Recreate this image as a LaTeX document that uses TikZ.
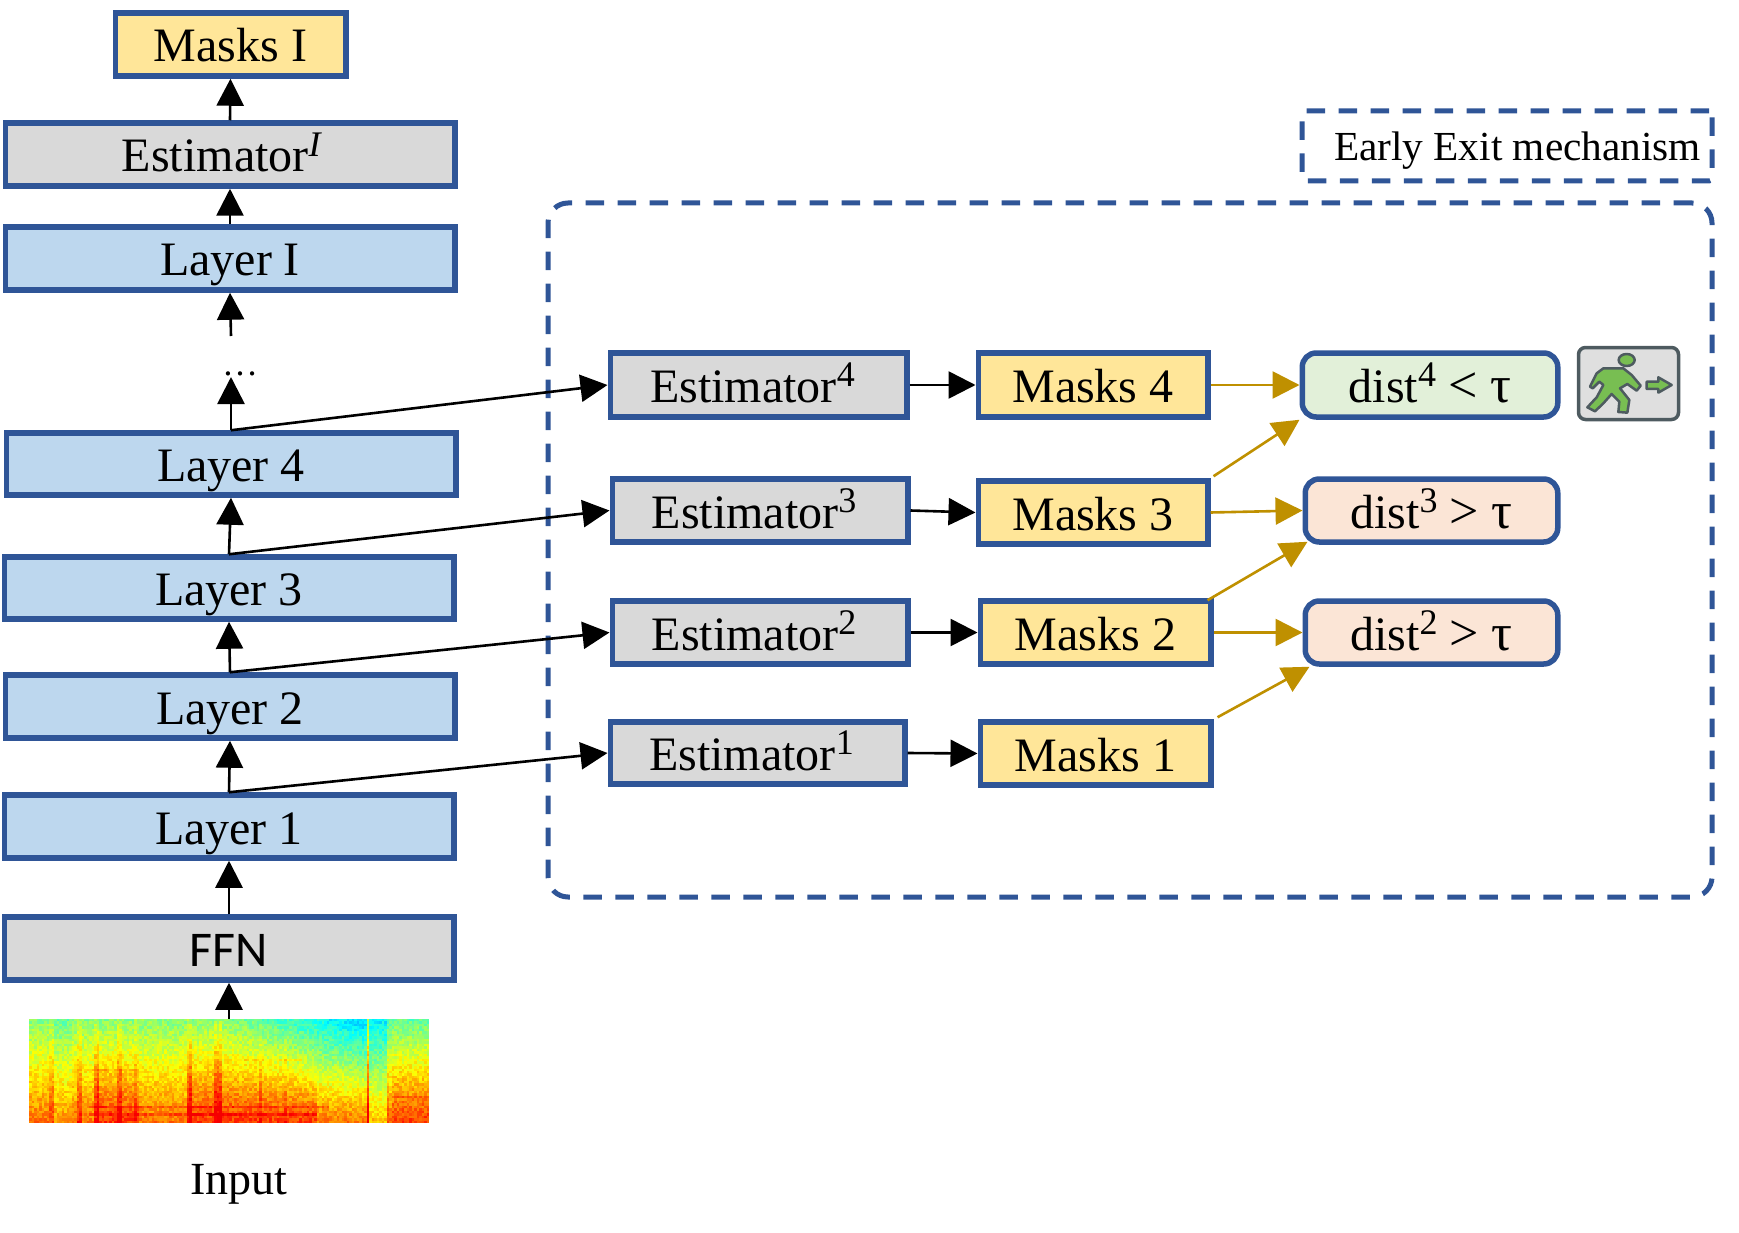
\documentclass[tikz,border=0pt]{standalone}
\usepackage{fontspec}
\setmainfont{Liberation Serif}
\newfontfamily\ffnfont{Carlito}
\usetikzlibrary{arrows.meta}
\definecolor{edgeblue}{HTML}{2F5597}
\definecolor{cellgray}{HTML}{D9D9D9}
\definecolor{cellblue}{HTML}{BDD7EE}
\definecolor{cellyellow}{HTML}{FFE699}
\definecolor{cellgreen}{HTML}{E2F0D9}
\definecolor{cellpink}{HTML}{FBE5D6}
\definecolor{goldline}{HTML}{BF9000}
\definecolor{figgreen}{HTML}{78BE52}
\definecolor{figdark}{HTML}{4E5B60}
\newcommand{\sups}[1]{\raisebox{0.33em}{\fontsize{36}{36}\selectfont #1}}
\newcommand{\cmpr}[1]{{\fontsize{52}{50}\selectfont #1}}
\newcommand{\bx}[7]{%
  \pgfmathsetmacro{\bxcx}{(#3+#5)/2}\pgfmathsetmacro{\bxcy}{(#4+#6)/2}%
  \pgfmathsetmacro{\bxw}{#5-#3-2.5}\pgfmathsetmacro{\bxh}{#6-#4-4}%
  \node[#2,minimum width=\bxw pt,minimum height=\bxh pt] (#1) at (\bxcx,\bxcy) {#7};}
\tikzset{
  cell/.style={draw=edgeblue,line width=5.5pt,inner sep=0pt,font=\fontsize{48}{50}\selectfont,text height=35pt,text depth=0pt},
  graybox/.style={cell,fill=cellgray},
  bluebox/.style={cell,fill=cellblue},
  yellowbox/.style={cell,fill=cellyellow},
  greenbox/.style={cell,fill=cellgreen,rounded corners=14pt},
  pinkbox/.style={cell,fill=cellpink,rounded corners=14pt},
  dashbox/.style={draw=edgeblue,line width=5pt,dash pattern=on 18.5pt off 13.5pt,inner sep=0pt},
  arr/.style={draw=black,line width=2.6pt,-{Triangle[length=27pt,width=27pt,fill=black]}},
  goldarr/.style={draw=goldline,line width=2.6pt,-{Triangle[length=27pt,width=27pt,fill=goldline]}},
}
\begin{document}
\begin{tikzpicture}[x=1pt,y=-1pt]
\useasboundingbox (0,0) rectangle (1739,1233);
% spectrogram
\pgfmathsetseed{4711}
\foreach \ci in {0,...,159}{
  \pgfmathsetmacro{\uu}{(\ci+.5)/160}
  \pgfmathsetmacro{\xx}{29+\ci*2.5}
  \pgfmathsetmacro{\Sc}{.05*(abs(\uu-.057)<.006)+.08*(abs(\uu-.123)<.007)+.1*(abs(\uu-.169)<.006)+.08*(abs(\uu-.223)<.006)
     +.04*(abs(\uu-.27)<.005)+.11*(abs(\uu-.40)<.006)+.1*(abs(\uu-.47)<.009)+.05*(abs(\uu-.58)<.004)+.04*(abs(\uu-.64)<.004)}
  \pgfmathsetmacro{\Da}{(\uu>.5)*(\uu<.85)*(\uu-.5)*.46+(\uu>=.85)*(\uu<.9)*.12+(\uu>=.9)*.03}
  \pgfmathsetmacro{\Ed}{(abs(\uu-.848)<.005)*.2+(abs(\uu-.898)<.005)*.07+(\uu>.065)*(\uu<.105)*(-.03)}
  \pgfmathsetmacro{\Bt}{(\uu>.905)*.06+(\uu>.17)*(\uu<.27)*.06+(\uu>.40)*(\uu<.72)*.06-(\uu>.85)*(\uu<.895)*.07}
  \foreach \cj in {0,...,41}{
    \pgfmathsetmacro{\ww}{(\cj+.5)/42}
    \pgfmathsetmacro{\vv}{min(.885,.505+.26*\ww+(\Sc)*min(1,.3+\ww)+\Ed-\Da*(1-\ww)*1.2+\Bt*\ww
       +.06*(abs(\ww-.85)<.018)*(\uu>.15)*(\uu<.75)+.06*(abs(\ww-.92)<.016)*(\uu>.15)*(\uu<.72)
       +.04*(abs(\ww-.48)<.012)*(\uu>.115)*(\uu<.27)+.04*(abs(\ww-.385)<.01)*(\uu>.54)*(\uu<.68)
       +.05*(abs(\ww-.75)<.014)*(\uu>.905)+.09*rnd-.045)}
    \pgfmathsetmacro{\rr}{max(0,min(1,1.5-abs(4*\vv-3)))}
    \pgfmathsetmacro{\gg}{max(0,min(1,1.5-abs(4*\vv-2)))}
    \pgfmathsetmacro{\bb}{max(0,min(1,1.5-abs(4*\vv-1)))}
    \definecolor{spc}{rgb}{\rr,\gg,\bb}
    \pgfmathsetmacro{\yy}{1019+\cj*2.476}
    \fill[spc] (\xx,\yy) rectangle ++(2.9,2.9);
  }
}
\path[inner sep=0pt,minimum width=400pt,minimum height=104pt] node (spec) at (229,1071) {};
\node[font=\fontsize{46}{50}\selectfont,anchor=base] (inp) at (239,1194) {Input};
% dashed frames
\node[dashbox,rounded corners=20pt,minimum width=1164pt,minimum height=694pt] (frame) at (1130,550) {};
\node[dashbox,rounded corners=3pt,minimum width=410pt,minimum height=70pt,font=\fontsize{41.3}{44}\selectfont,text height=30pt,text depth=0pt] (ee) at (1507,146) {\hspace*{21pt}Early Exit mechanism};
% left column
\bx{mi}{yellowbox}{114}{11}{347}{78}{Masks I}
\bx{ei}{graybox}{4}{121}{456}{188}{Estimator\sups{\textit{I}}\hspace*{16pt}}
\bx{li}{bluebox}{4}{225}{456}{292}{Layer I}
\bx{l4}{bluebox}{5}{431}{457}{497}{Layer 4}
\bx{l3}{bluebox}{3}{555}{455}{621}{Layer 3}
\bx{l2}{bluebox}{4}{673}{456}{740}{Layer 2}
\bx{l1}{bluebox}{3}{793}{455}{860}{Layer 1}
\bx{ffn}{graybox}{3}{915}{455}{982}{\ffnfont\fontsize{50}{50}\selectfont FFN}
\node[font=\fontsize{36}{36}\selectfont,anchor=base,inner sep=0pt] (dots) at (240,375) {…};
\coordinate (dotslow) at (231,377);
\coordinate (dotshigh) at (231,336);
% estimators
\bx{e4}{graybox}{609}{351}{908}{419}{Estimator\sups{4}\hspace*{12pt}}
\bx{e3}{graybox}{611}{477}{909}{544}{Estimator\sups{3}\hspace*{12pt}}
\bx{e2}{graybox}{611}{599}{909}{666}{Estimator\sups{2}\hspace*{12pt}}
\bx{e1}{graybox}{609}{720}{906}{786}{Estimator\sups{1}\hspace*{12pt}}
% masks
\bx{m4}{yellowbox}{977}{351}{1209}{419}{Masks 4}
\bx{m3}{yellowbox}{977}{479}{1209}{546}{Masks 3}
\bx{m2}{yellowbox}{979}{599}{1212}{666}{Masks 2}
\bx{m1}{yellowbox}{979}{720}{1212}{787}{Masks 1}
% conditions
\bx{d4}{greenbox}{1301}{351}{1559}{419}{dist\sups{4} \cmpr{< τ}}
\bx{d3}{pinkbox}{1304}{477}{1559}{544}{dist\sups{3} \cmpr{> τ}}
\bx{d2}{pinkbox}{1304}{599}{1559}{666}{dist\sups{2} \cmpr{> τ}}
% exit icon
\node[draw=figdark,fill=cellgray!85!white,line width=3.5pt,rounded corners=7pt,minimum width=100pt,minimum height=72pt,inner sep=0pt] (exit) at (1628.5,383.5) {};
\begin{scope}[shift={(1540,320)},x=.3333pt,y=-.3333pt,draw=figdark,fill=figgreen,line width=2.5pt,line join=round]
  \filldraw (260,120) ellipse [x radius=24,y radius=18];
  \filldraw (190,145) -- (250,145) -- (275,165) -- (302,197) -- (290,212) -- (262,192) -- (240,205) -- (268,240) -- (262,278) -- (235,276) -- (238,245) -- (215,222) -- (190,250) -- (165,274) -- (142,262) -- (170,232) -- (190,195) -- (178,185) -- (158,205) -- (150,200) -- (170,160) -- cycle;
  \filldraw (320,185) -- (355,185) -- (355,172) -- (395,195) -- (355,218) -- (355,207) -- (320,207) -- cycle;
\end{scope}
% black connectors
\draw[arr] (spec.north) -- (ffn.south);
\draw[arr] (ffn.north) -- (l1.south);
\draw[arr] (l1.north) -- (l2.south);
\draw[arr] (l2.north) -- (l3.south);
\draw[arr] (l3.north) -- (l4.south);
\draw[arr] (l4.north) -- (dotslow);
\draw[arr] (dotshigh) -- (li.south);
\draw[arr] (li.north) -- (ei.south);
\draw[arr] (ei.north) -- (mi.south);
\draw[arr] (l4.north) -- (e4.west);
\draw[arr] (l3.north) -- (e3.west);
\draw[arr] (l2.north) -- (e2.west);
\draw[arr] (l1.north) -- (e1.west);
\draw[arr] (e4.east) -- (m4.west);
\draw[arr] (e3.east) -- (m3.west);
\draw[arr] (e2.east) -- (m2.west);
\draw[arr] (e1.east) -- (m1.west);
% gold connectors
\draw[goldarr] (m4.east) -- (d4.west);
\draw[goldarr] (m3.east) -- (d3.west);
\draw[goldarr] (m2.east) -- (d2.west);
\draw[goldarr] ([xshift=3pt,yshift=2pt]m3.north east) -- (d4.south west);
\draw[goldarr] ([xshift=-6pt,yshift=-2pt]m2.north east) -- ([xshift=5pt,yshift=3pt]d3.south west);
\draw[goldarr] ([xshift=4pt,yshift=2pt]m1.north east) -- ([xshift=7pt]d2.south west);
\end{tikzpicture}
\end{document}
